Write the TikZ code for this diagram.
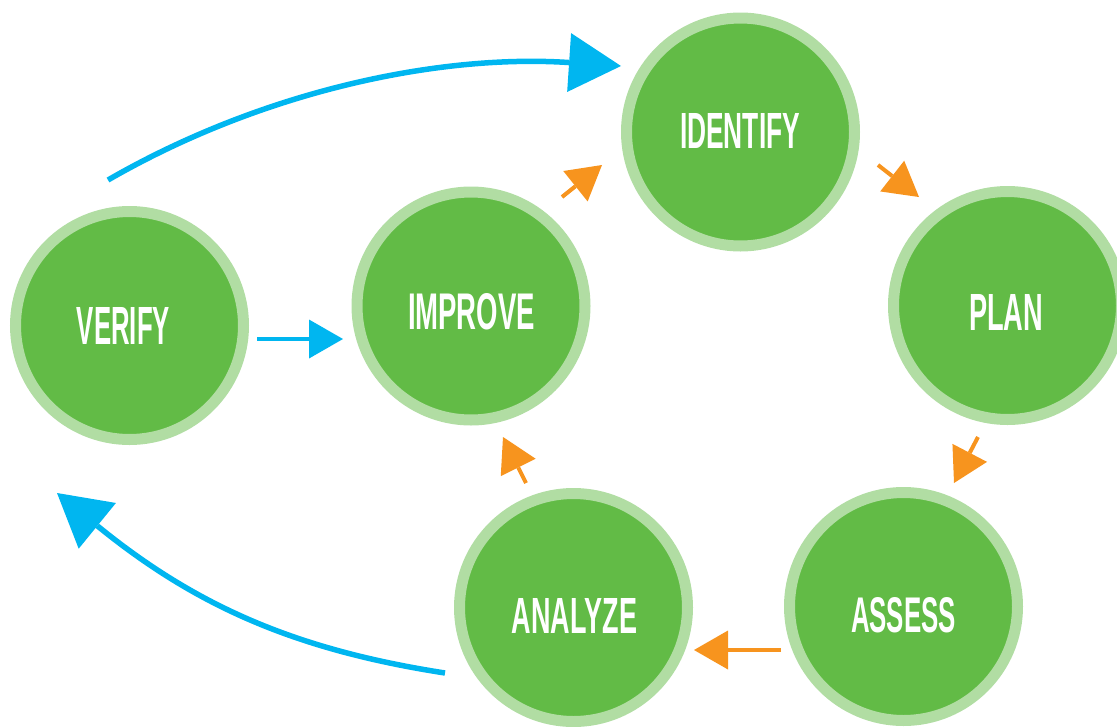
\documentclass[tikz,border=0pt]{standalone}
\usepackage{fontspec}
\setmainfont{Liberation Sans}
\usepackage{graphicx}
\usetikzlibrary{arrows.meta}
\definecolor{cgreen}{HTML}{62BB46}
\definecolor{cring}{HTML}{B1DDA3}
\definecolor{cblue}{HTML}{00B6F0}
\definecolor{corange}{HTML}{F7941E}
\tikzset{
  stage/.style={circle, draw=cring, line width=11pt, fill=cgreen, minimum size=228pt, inner sep=0pt},
  lbl/.style={text=white, inner sep=0pt, font=\bfseries},
  oarrow/.style={draw=corange, line width=4pt, -{Triangle[length=34pt,width=39pt,line width=0pt]}},
  barrow/.style={draw=cblue, line width=4pt, -{Triangle[length=34pt,width=39pt,line width=0pt]}},
  bigarrow/.style={draw=cblue, line width=5.5pt, -{Triangle[length=52pt,width=59pt,line width=0pt]}},
}
\newcommand{\fitlabel}[3]{\resizebox{#1pt}{#2pt}{#3}}
\begin{document}
\begin{tikzpicture}[x=1pt,y=-1pt]
\useasboundingbox (0,0) rectangle (1117,726);
% stages
\node[stage] (identify) at (740.5,132) {};
\node[stage] (plan) at (1007.5,305.5) {};
\node[stage] (assess) at (903.5,606.5) {};
\node[stage] (analyze) at (573.5,607.5) {};
\node[stage] (improve) at (471,306) {};
\node[stage] (verify) at (129.5,325.5) {};
% labels
\node[lbl] (tidentify) at (740,130.5) {\fitlabel{120}{35}{IDENTIFY}};
\node[lbl] (tplan) at (1006,312) {\fitlabel{74}{36}{PLAN}};
\node[lbl] (tassess) at (903.5,615.5) {\fitlabel{105}{35}{ASSESS}};
\node[lbl] (tanalyze) at (574.5,615.5) {\fitlabel{125}{35}{ANALYZE}};
\node[lbl] (timprove) at (471.5,312) {\fitlabel{127}{36}{IMPROVE}};
\node[lbl] (tverify) at (123.5,325.5) {\fitlabel{93}{37}{VERIFY}};
% connector ends
\coordinate (a1s) at (562,197);  \coordinate (a1e) at (602,165);
\coordinate (a2s) at (878,165);  \coordinate (a2e) at (919,197);
\coordinate (a3s) at (978,437);  \coordinate (a3e) at (954,483);
\coordinate (a4s) at (781,650);  \coordinate (a4e) at (694,650);
\coordinate (a5s) at (526,483);  \coordinate (a5e) at (503,437);
\coordinate (a6s) at (257,339);  \coordinate (a6e) at (343,339);
\coordinate (b1s) at (108,180);  \coordinate (b1e) at (621,66);
\coordinate (b2s) at (445,673);  \coordinate (b2e) at (57,493);
% orange cycle arrows
\draw[oarrow] (a1s) -- (a1e);
\draw[oarrow] (a2s) -- (a2e);
\draw[oarrow] (a3s) -- (a3e);
\draw[oarrow] (a4s) -- (a4e);
\draw[oarrow] (a5s) -- (a5e);
% blue arrows
\draw[barrow] (a6s) -- (a6e);
\draw[bigarrow] (b1s) .. controls (264,90) and (441,54) .. (b1e);
\draw[bigarrow] (b2s) .. controls (297,650) and (197,607) .. (b2e);
\end{tikzpicture}
\end{document}
